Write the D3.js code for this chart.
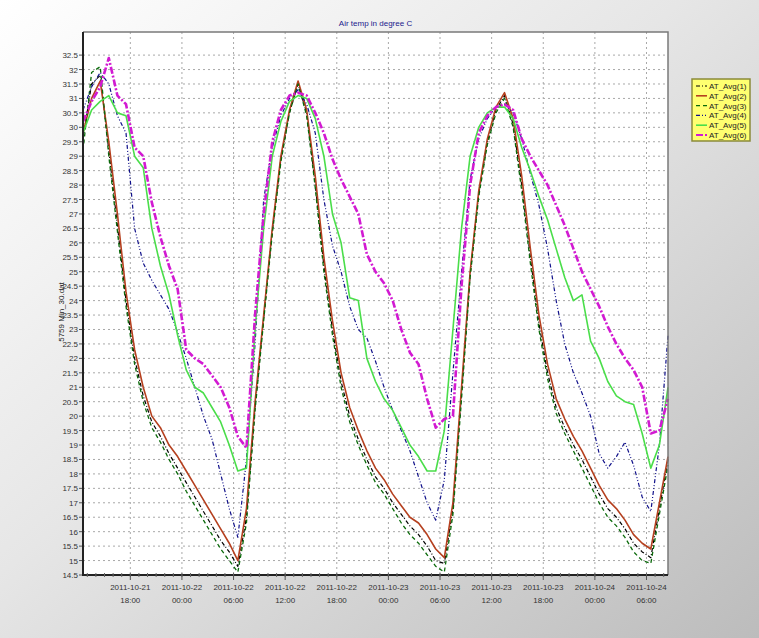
<!DOCTYPE html>
<html>
<head>
<meta charset="utf-8">
<script src="https://cdn.jsdelivr.net/npm/d3@7"></script>
<style>
  html, body { margin: 0; padding: 0; }
  svg { display: block; font-family: "Liberation Sans", Arial, sans-serif; }
</style>
</head>
<body>
<svg width="759" height="638"></svg>
<script>
// half-hour file sampled hourly, first reading 2011-10-21 12:30
var startTime = new Date(2011, 9, 21, 12, 30)
var seriesNames = ["AT_Avg(1)", "AT_Avg(2)", "AT_Avg(3)", "AT_Avg(4)", "AT_Avg(5)", "AT_Avg(6)"]

var avg1 = [29.6,31.5,31.8,29.2,26.6,24.0,22.0,20.7,19.8,19.3,18.7,18.2,17.7,17.2,16.7,16.2,15.7,15.3,14.8,16.5,20.3,23.4,26.4,28.9,30.5,31.5,30.5,28.0,25.2,23.0,21.2,20.0,19.2,18.5,17.9,17.5,17.0,16.6,16.2,15.9,15.5,15.0,14.9,16.8,20.8,24.9,27.7,29.5,30.6,31.1,30.1,28.0,25.5,23.2,21.5,20.3,19.6,19.0,18.5,17.9,17.3,16.8,16.5,16.1,15.6,15.3,15.1,16.8,18.5]
var avg2 = [29.8,31.0,31.6,29.5,27.0,24.3,22.3,21.0,20.0,19.6,19.0,18.6,18.1,17.6,17.1,16.6,16.1,15.6,15.0,16.8,20.5,23.5,26.5,29.0,30.6,31.6,30.6,28.3,25.5,23.3,21.5,20.3,19.5,18.8,18.2,17.8,17.3,16.9,16.5,16.3,15.9,15.4,15.1,17.0,21.0,25.0,27.8,29.6,30.7,31.2,30.3,28.3,25.8,23.5,21.8,20.6,19.9,19.3,18.8,18.2,17.6,17.1,16.8,16.4,15.9,15.6,15.4,17.0,18.6]
var avg3 = [29.2,31.9,32.1,29.0,26.4,23.8,21.8,20.5,19.6,19.1,18.5,18.0,17.4,16.9,16.4,15.9,15.4,15.0,14.6,16.3,20.2,23.3,26.3,28.8,30.5,31.5,30.4,27.9,25.0,22.8,21.0,19.8,19.0,18.3,17.7,17.3,16.8,16.3,15.9,15.6,15.2,14.8,14.6,16.6,20.6,24.8,27.6,29.4,30.5,31.0,30.0,27.8,25.3,23.0,21.3,20.1,19.4,18.8,18.2,17.6,17.0,16.5,16.2,15.8,15.3,15.0,14.9,16.6,18.3]
var avg4 = [30.6,31.4,31.9,31.5,30.4,29.8,26.5,25.3,24.7,24.2,23.7,22.9,22.0,21.0,20.0,19.2,18.0,16.8,15.8,18.5,22.5,27.5,29.3,30.4,31.0,31.3,30.8,29.8,27.5,25.9,25.0,23.8,23.0,22.7,21.9,21.0,20.2,19.5,18.8,17.9,17.0,16.4,17.8,21.5,25.0,28.2,29.6,30.3,30.7,30.8,30.5,29.6,28.4,27.3,25.8,24.0,22.5,21.5,20.8,20.0,18.7,18.2,18.6,19.1,18.3,17.2,16.7,19.0,22.8]
var avg5 = [29.8,30.6,30.9,31.1,30.5,30.4,29.0,28.6,26.5,25.2,24.2,22.8,21.6,21.0,20.8,20.3,19.8,19.0,18.1,18.2,23.0,26.5,29.0,30.2,30.9,31.1,31.0,30.3,29.0,27.0,26.0,24.1,24.0,22.0,21.2,20.6,20.2,19.6,19.0,18.6,18.1,18.1,19.5,23.0,26.5,29.0,30.0,30.5,30.7,30.7,30.3,29.3,28.5,27.6,26.8,25.8,24.8,24.0,24.2,22.6,22.0,21.2,20.7,20.5,20.4,19.4,18.2,19.0,21.0]
var avg6 = [30.2,30.9,31.4,32.4,31.1,30.8,29.3,29.0,27.4,26.2,25.2,24.4,22.3,22.0,21.8,21.4,21.0,20.3,19.3,18.9,23.5,27.0,29.5,30.6,31.1,31.2,31.1,30.5,29.8,28.9,28.2,27.6,27.0,25.6,25.0,24.6,24.0,23.0,22.2,21.8,20.6,19.6,19.9,20.0,24.5,28.0,29.8,30.4,30.7,30.8,30.6,29.6,29.0,28.5,28.0,27.3,26.6,25.8,25.0,24.4,23.8,23.1,22.5,22.0,21.6,21.0,19.4,19.5,20.6]

var yTicks = d3.range(14.5, 32.51, 0.5)
var xTickDates = ["2011-10-21","2011-10-22","2011-10-22","2011-10-22","2011-10-22","2011-10-23","2011-10-23","2011-10-23","2011-10-23","2011-10-24","2011-10-24"]
var xTickTimes = ["18:00","00:00","06:00","12:00","18:00","00:00","06:00","12:00","18:00","00:00","06:00"]

var colors = ["#000000", "#b5401f", "#0a6a0a", "#10108a", "#4ade4a", "#d21ad2"]
var dashes = ["4,2,1,2", null, "4,3", "4,2,1,2,1,2", null, "7,2,2,2"]
var widths = [1.2, 1.6, 1.3, 1.2, 1.6, 2.6]

var svg = d3.select("svg")
// plot box (note: "top" is a reserved window property, so prefix these)
var plotL = 83, plotR = 668, plotT = 32, plotB = 575

// background
var defs = svg.append("defs")
var grad = defs.append("linearGradient").attr("id", "bg")
  .attr("x1", "0").attr("y1", "0").attr("x2", "1").attr("y2", "1")
grad.append("stop").attr("offset", "0%").attr("stop-color", "#ffffff")
grad.append("stop").attr("offset", "45%").attr("stop-color", "#e6e6e6")
grad.append("stop").attr("offset", "100%").attr("stop-color", "#bcbcbc")
svg.append("rect").attr("width", 759).attr("height", 638).attr("fill", "url(#bg)")

var x = d3.scaleTime()
  .domain([startTime, new Date(2011, 9, 24, 8, 30)])
  .range([plotL, plotR])
var y = d3.scaleLinear().domain([14.5, 33.3]).range([plotB, plotT])

// plot area
svg.append("rect").attr("x", plotL).attr("y", plotT)
  .attr("width", plotR - plotL).attr("height", plotB - plotT)
  .attr("fill", "#ffffff")

var xTicks = xTickTimes.map(function(t, i) {
  var p = xTickDates[i].split("-")
  var h = t.split(":")
  return new Date(+p[0], +p[1] - 1, +p[2], +h[0], +h[1])
})

// grid
svg.append("g").selectAll("line").data(yTicks).enter().append("line")
  .attr("x1", plotL).attr("x2", plotR)
  .attr("y1", d => y(d)).attr("y2", d => y(d))
  .attr("stroke", "#a8a8a8").attr("stroke-dasharray", "2,3")
svg.append("g").selectAll("line").data(xTicks).enter().append("line")
  .attr("x1", d => x(d)).attr("x2", d => x(d))
  .attr("y1", plotT).attr("y2", plotB)
  .attr("stroke", "#a8a8a8").attr("stroke-dasharray", "2,3")

// series
var line = d3.line()
  .x((d, i) => x(d3.timeHour.offset(startTime, i)))
  .y(d => y(d))
var allSeries = [avg1, avg2, avg3, avg4, avg5, avg6]
svg.append("g").selectAll("path").data(allSeries).enter().append("path")
  .attr("d", line)
  .attr("fill", "none")
  .attr("stroke", (d, i) => colors[i])
  .attr("stroke-width", (d, i) => widths[i])
  .attr("stroke-dasharray", (d, i) => dashes[i])
  .attr("stroke-linejoin", "round")

// frame
svg.append("path")
  .attr("d", "M" + plotL + "," + plotT + "H" + plotR + "V" + plotB)
  .attr("fill", "none").attr("stroke", "#7a7a7a").attr("stroke-width", 1.5)
svg.append("path")
  .attr("d", "M" + plotL + "," + plotT + "V" + plotB + "H" + plotR)
  .attr("fill", "none").attr("stroke", "#222").attr("stroke-width", 2)

// y axis
var yAxis = svg.append("g")
yAxis.selectAll("line").data(yTicks).enter().append("line")
  .attr("x1", plotL - 4).attr("x2", plotL - 1)
  .attr("y1", d => y(d)).attr("y2", d => y(d))
  .attr("stroke", "#555")
yAxis.selectAll("text").data(yTicks).enter().append("text")
  .attr("x", plotL - 5).attr("y", d => y(d) + 3)
  .attr("text-anchor", "end").attr("font-size", 8).attr("fill", "#333")
  .text(d => String(d))

// x axis: hourly minor ticks and labelled 6 h ticks
var hours = d3.timeHour.range(d3.timeHour.ceil(x.domain()[0]), x.domain()[1])
svg.append("g").selectAll("line").data(hours).enter().append("line")
  .attr("x1", d => x(d)).attr("x2", d => x(d))
  .attr("y1", plotB - 2).attr("y2", plotB + 2)
  .attr("stroke", "#666")
var xAxis = svg.append("g")
xAxis.selectAll("line").data(xTicks).enter().append("line")
  .attr("x1", d => x(d)).attr("x2", d => x(d))
  .attr("y1", plotB).attr("y2", plotB + 5)
  .attr("stroke", "#555")
xAxis.selectAll("text.date").data(xTicks).enter().append("text")
  .attr("class", "date")
  .attr("x", d => x(d)).attr("y", plotB + 15)
  .attr("text-anchor", "middle").attr("font-size", 8).attr("fill", "#333")
  .text((d, i) => xTickDates[i])
xAxis.selectAll("text.time").data(xTicks).enter().append("text")
  .attr("class", "time")
  .attr("x", d => x(d)).attr("y", plotB + 28)
  .attr("text-anchor", "middle").attr("font-size", 8).attr("fill", "#333")
  .text((d, i) => xTickTimes[i])

// axis title and chart title
svg.append("text")
  .attr("transform", "translate(64,312) rotate(-90)")
  .attr("text-anchor", "middle").attr("font-size", 8).attr("fill", "#222")
  .text("5759 Min_30.dat")
svg.append("text")
  .attr("x", (plotL + plotR) / 2).attr("y", 26)
  .attr("text-anchor", "middle").attr("font-size", 8).attr("fill", "#1a1a8c")
  .text("Air temp in degree C")

// legend
var lg = svg.append("g").attr("transform", "translate(692,79)")
lg.append("rect").attr("width", 58).attr("height", 62)
  .attr("fill", "#ffff70").attr("stroke", "#8a8a3a").attr("stroke-width", 1.5)
var items = lg.selectAll("g").data(seriesNames).enter().append("g")
  .attr("transform", (d, i) => "translate(0," + (7 + i * 9.8) + ")")
items.append("line").attr("x1", 4).attr("x2", 15)
  .attr("stroke", (d, i) => colors[i])
  .attr("stroke-width", (d, i) => Math.min(widths[i], 2))
  .attr("stroke-dasharray", (d, i) => dashes[i])
items.append("text").attr("x", 17).attr("y", 3)
  .attr("font-size", 8).attr("fill", "#222")
  .text(d => d)
</script>
</body>
</html>
